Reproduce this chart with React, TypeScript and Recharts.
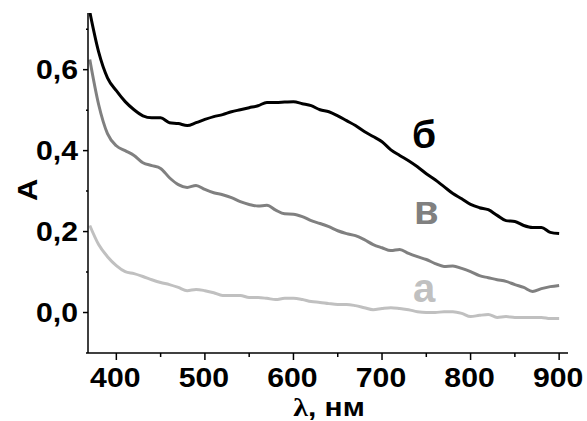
import React from "react"
import { Line, LineChart, XAxis, YAxis } from "recharts"

// wavelength, nm
const wavelengths = [
  370, 380, 390, 400, 410, 420, 430, 440, 450, 460, 470, 480, 490, 500, 510, 520, 530, 540,
  550, 560, 570, 580, 590, 600, 610, 620, 630, 640, 650, 660, 670, 680, 690, 700, 710, 720,
  730, 740, 750, 760, 770, 780, 790, 800, 810, 820, 830, 840, 850, 860, 870, 880, 890, 900,
]

// curve "а" (light grey)
const seriesA = [
  0.215, 0.168, 0.138, 0.116, 0.101, 0.096, 0.089, 0.081, 0.074, 0.069, 0.062, 0.054, 0.057,
  0.054, 0.049, 0.042, 0.042, 0.042, 0.037, 0.037, 0.035, 0.032, 0.035, 0.035, 0.032, 0.027,
  0.025, 0.022, 0.02, 0.02, 0.017, 0.012, 0.007, 0.01, 0.012, 0.01, 0.007, 0.002, 0.0, 0.0,
  0.002, 0.002, -0.002, -0.01, -0.007, -0.005, -0.012, -0.01, -0.012, -0.012, -0.012, -0.012,
  -0.015, -0.015,
]

// curve "б" (black)
const seriesB = [
  0.743, 0.644, 0.58, 0.548, 0.521, 0.501, 0.486, 0.481, 0.481, 0.469, 0.467, 0.462, 0.469,
  0.477, 0.484, 0.489, 0.496, 0.501, 0.506, 0.511, 0.519, 0.519, 0.52, 0.521, 0.516, 0.511,
  0.501, 0.496, 0.486, 0.474, 0.462, 0.447, 0.435, 0.422, 0.402, 0.388, 0.375, 0.36, 0.343,
  0.328, 0.311, 0.294, 0.281, 0.267, 0.259, 0.254, 0.24, 0.227, 0.225, 0.215, 0.21, 0.21,
  0.198, 0.195,
]

// curve "в" (grey)
const seriesV = [
  0.625, 0.514, 0.442, 0.412, 0.4, 0.388, 0.37, 0.363, 0.356, 0.333, 0.316, 0.309, 0.314,
  0.304, 0.296, 0.291, 0.284, 0.274, 0.267, 0.263, 0.265, 0.253, 0.244, 0.243, 0.237, 0.227,
  0.22, 0.212, 0.202, 0.195, 0.19, 0.18, 0.168, 0.16, 0.153, 0.156, 0.146, 0.138, 0.131,
  0.121, 0.114, 0.115, 0.109, 0.101, 0.091, 0.086, 0.081, 0.077, 0.069, 0.062, 0.052, 0.059,
  0.064, 0.067,
]

const xTicks = [400, 450, 500, 550, 600, 650, 700, 750, 800, 850, 900]
const yTicks = [-0.1, 0, 0.1, 0.2, 0.3, 0.4, 0.5, 0.6, 0.7]

const data = wavelengths.map((nm, i) => ({
  nm,
  a: seriesA[i],
  b: seriesB[i],
  v: seriesV[i],
}))

const FONT = "'Liberation Sans', Arial, sans-serif"

const XTick = (props: any) => {
  const { x, y, payload } = props
  const major = payload.value % 100 === 0
  return (
    <g>
      <line x1={x} x2={x} y1={y} y2={y + (major ? 7 : 4)} stroke="#000" strokeWidth={1.5} />
      {major && (
        <text
          transform={`translate(${x - 1},${y + 34}) scale(1.12,1)`}
          textAnchor="middle"
          fontSize={27}
          fontWeight="bold"
          fontFamily={FONT}
          fill="#000"
        >
          {payload.value}
        </text>
      )}
    </g>
  )
}

const YTick = (props: any) => {
  const { x, y, payload } = props
  const major = Math.round(payload.value * 10) % 2 === 0
  return (
    <g>
      <line x1={x - (major ? 5 : 2)} x2={x} y1={y} y2={y} stroke="#000" strokeWidth={1.5} />
      {major && (
        <text
          transform={`translate(${x - 10},${y + 9.5}) scale(1.12,1)`}
          textAnchor="end"
          fontSize={27}
          fontWeight="bold"
          fontFamily={FONT}
          fill="#000"
        >
          {payload.value.toFixed(1).replace(".", ",")}
        </text>
      )}
    </g>
  )
}

export default function App() {
  return (
    <div style={{ position: "absolute", left: 0, top: 0, width: 587, height: 421, background: "#fff" }}>
      <LineChart
        width={587}
        height={421}
        data={data}
        margin={{ top: 13, right: 19, bottom: 0, left: 0 }}
      >
        <XAxis
          dataKey="nm"
          type="number"
          domain={[368, 910]}
          ticks={xTicks}
          allowDataOverflow
          height={68}
          tickSize={0}
          tickMargin={0}
          tickLine={false}
          axisLine={{ stroke: "#000", strokeWidth: 1.5 }}
          tick={<XTick />}
          interval={0}
        />
        <YAxis
          type="number"
          domain={[-0.1, 0.74]}
          ticks={yTicks}
          allowDataOverflow
          width={88}
          tickSize={0}
          tickMargin={0}
          tickLine={false}
          axisLine={{ stroke: "#000", strokeWidth: 1.5 }}
          tick={<YTick />}
          interval={0}
        />
        <Line type="monotone" dataKey="a" stroke="#c0c0c0" strokeWidth={3} dot={false} isAnimationActive={false} />
        <Line type="monotone" dataKey="v" stroke="#808080" strokeWidth={3} dot={false} isAnimationActive={false} />
        <Line type="monotone" dataKey="b" stroke="#000" strokeWidth={3} dot={false} isAnimationActive={false} />
      </LineChart>
      <svg
        width={587}
        height={421}
        style={{ position: "absolute", left: 0, top: 0, pointerEvents: "none" }}
      >
        <text
          transform="translate(37,190) rotate(-90) scale(1.1,1)"
          textAnchor="middle"
          fontSize={28}
          fontWeight="bold"
          fontFamily={FONT}
        >
          A
        </text>
        <text
          transform="translate(329,416) scale(1.15,1)"
          textAnchor="middle"
          fontSize={26}
          fontWeight="bold"
          fontFamily={FONT}
        >
          <tspan fontFamily="'Liberation Serif', serif">λ</tspan>, нм
        </text>
        <text x={412} y={148} fontSize={39} fontWeight="bold" fontFamily={FONT} fill="#000">
          б
        </text>
        <text x={414} y={224} fontSize={40} fontWeight="bold" fontFamily={FONT} fill="#808080">
          в
        </text>
        <text x={413} y={302} fontSize={40} fontWeight="bold" fontFamily={FONT} fill="#c0c0c0">
          а
        </text>
      </svg>
    </div>
  )
}
